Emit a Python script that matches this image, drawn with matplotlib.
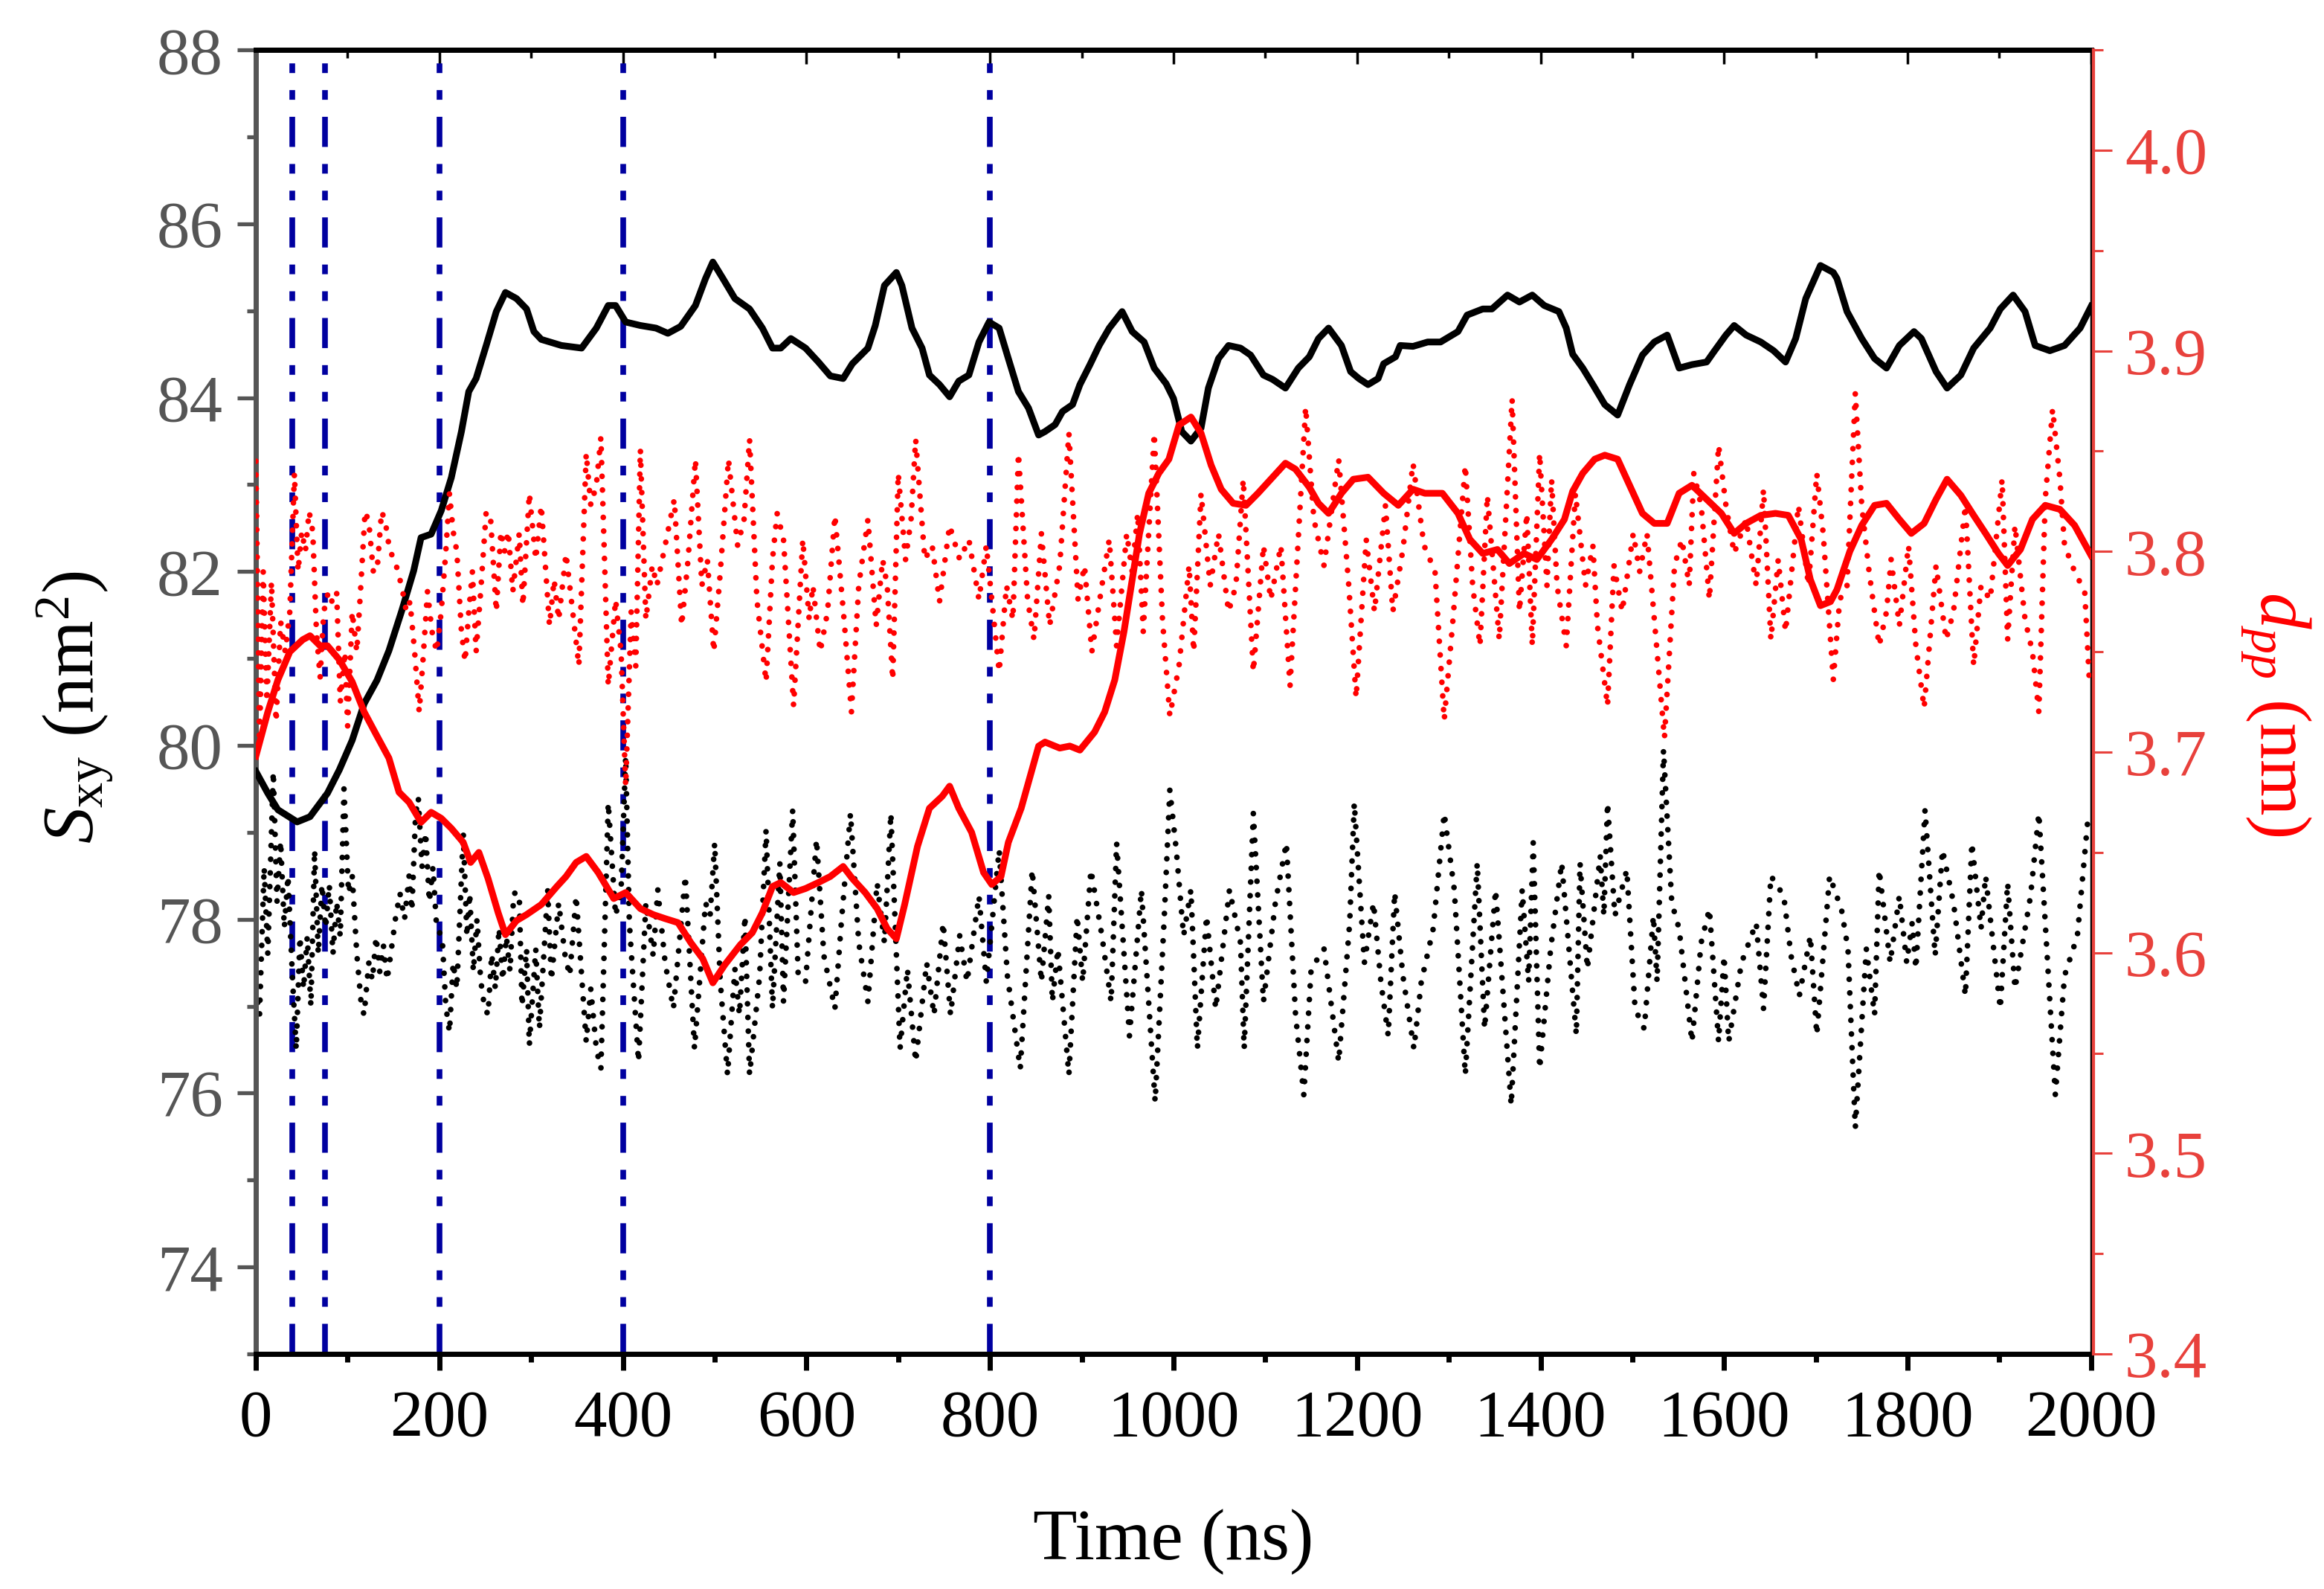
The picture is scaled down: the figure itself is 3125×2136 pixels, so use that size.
import matplotlib
matplotlib.use('Agg')
import matplotlib.pyplot as plt
from matplotlib.ticker import MultipleLocator

plt.rcParams['font.family'] = 'Liberation Serif'
plt.rcParams['mathtext.fontset'] = 'custom'
plt.rcParams['mathtext.rm'] = 'Liberation Serif'
plt.rcParams['mathtext.it'] = 'Liberation Serif:italic'

# --- data: (time ns, value) ---
# S_xy running average (left axis, nm^2)
sxy_avg = [
    (0, 79.7), (13, 79.45), (24, 79.26), (45, 79.12), (59, 79.18), (78, 79.45), (91, 79.72),
    (105, 80.06), (118, 80.48), (132, 80.75), (145, 81.09), (159, 81.55), (172, 82.01),
    (180, 82.39), (191, 82.43), (202, 82.70), (213, 83.08), (224, 83.61), (232, 84.07),
    (240, 84.22), (251, 84.60), (262, 84.99), (272, 85.21), (284, 85.14), (295, 85.02),
    (303, 84.76), (311, 84.67), (333, 84.60), (355, 84.57), (371, 84.80), (384, 85.06),
    (392, 85.06), (403, 84.87), (419, 84.83), (436, 84.80), (449, 84.74), (463, 84.82),
    (479, 85.06), (490, 85.37), (498, 85.56), (509, 85.37), (522, 85.14), (538, 85.02),
    (552, 84.80), (563, 84.57), (572, 84.57), (583, 84.68), (599, 84.57), (613, 84.41),
    (626, 84.25), (640, 84.22), (650, 84.39), (667, 84.57), (675, 84.83), (685, 85.29),
    (698, 85.44), (704, 85.29), (715, 84.80), (726, 84.57), (734, 84.26), (745, 84.15),
    (756, 84.01), (766, 84.19), (777, 84.26), (788, 84.64), (799, 84.87), (810, 84.80),
    (820, 84.45), (831, 84.07), (842, 83.88), (853, 83.57), (860, 83.61), (871, 83.69),
    (879, 83.84), (890, 83.92), (898, 84.15), (909, 84.38), (919, 84.60), (930, 84.80),
    (944, 84.99), (955, 84.76), (968, 84.64), (979, 84.34), (992, 84.16), (1000, 83.99),
    (1009, 83.61), (1019, 83.50), (1030, 83.65), (1038, 84.11), (1049, 84.45), (1060, 84.60),
    (1073, 84.57), (1084, 84.49), (1098, 84.26), (1108, 84.21), (1122, 84.11), (1136, 84.34),
    (1148, 84.47), (1158, 84.68), (1169, 84.80), (1183, 84.60), (1193, 84.30), (1202, 84.22),
    (1212, 84.15), (1223, 84.22), (1229, 84.39), (1242, 84.47), (1247, 84.60), (1261, 84.59),
    (1277, 84.64), (1291, 84.64), (1310, 84.76), (1320, 84.95), (1337, 85.02), (1347, 85.02),
    (1364, 85.18), (1377, 85.10), (1391, 85.18), (1404, 85.06), (1420, 84.99), (1428, 84.80),
    (1435, 84.50), (1446, 84.34), (1457, 84.15), (1470, 83.92), (1484, 83.80), (1497, 84.15),
    (1511, 84.49), (1524, 84.64), (1538, 84.72), (1551, 84.34), (1565, 84.38), (1581, 84.41),
    (1589, 84.53), (1602, 84.72), (1611, 84.83), (1624, 84.72), (1640, 84.64), (1654, 84.54),
    (1667, 84.41), (1678, 84.68), (1689, 85.14), (1705, 85.52), (1719, 85.44), (1723, 85.37),
    (1734, 84.99), (1750, 84.68), (1764, 84.45), (1777, 84.34), (1791, 84.60), (1807, 84.76),
    (1815, 84.68), (1831, 84.30), (1843, 84.11), (1858, 84.26), (1872, 84.57), (1890, 84.80),
    (1901, 85.02), (1915, 85.18), (1928, 84.99), (1939, 84.60), (1955, 84.54), (1971, 84.60),
    (1988, 84.80), (2000, 85.05),
]

# S_xy raw (left axis, dotted)
sxy_raw = [
    (0, 77.2), (4, 76.9), (9, 78.6), (13, 77.6), (19, 79.7), (23, 78.2), (27, 78.9), (31, 77.9),
    (35, 78.5), (40, 77.3), (44, 76.5), (48, 77.8), (52, 77.2), (56, 77.8), (60, 77.0),
    (64, 78.8), (68, 77.6), (72, 78.4), (76, 77.9), (80, 78.4), (84, 77.6), (88, 78.2),
    (92, 77.8), (96, 79.5), (101, 78.3), (105, 78.5), (110, 77.6), (115, 77.0), (118, 76.9),
    (123, 77.5), (127, 77.3), (131, 77.8), (135, 77.4), (139, 77.7), (143, 77.3), (147, 77.6),
    (152, 78.0), (157, 78.3), (162, 78.0), (167, 78.5), (170, 78.1), (174, 79.2), (177, 79.4),
    (181, 78.6), (185, 79.0), (189, 78.2), (193, 78.6), (197, 77.9), (203, 77.8), (207, 77.0),
    (211, 76.7), (215, 77.5), (219, 77.2), (226, 79.0), (230, 77.8), (233, 78.3), (237, 77.4),
    (241, 78.0), (245, 77.3), (249, 77.0), (253, 76.9), (257, 77.6), (261, 77.2), (265, 77.9),
    (269, 77.3), (273, 77.8), (277, 77.4), (281, 78.3), (287, 78.3), (290, 77.0), (295, 77.66),
    (298, 76.55), (305, 77.66), (309, 76.74), (318, 78.34), (322, 77.3), (330, 78.19),
    (337, 77.58), (342, 77.35), (349, 78.27), (360, 76.59), (365, 77.2), (371, 76.51),
    (376, 76.28), (384, 79.34), (392, 78.04), (398, 78.34), (403, 79.87), (407, 77.96),
    (417, 76.36), (425, 78.19), (433, 77.58), (438, 78.34), (446, 77.5), (455, 76.97),
    (468, 78.5), (478, 76.51), (490, 78.19), (495, 78.04), (500, 78.88), (506, 77.3),
    (514, 76.21), (522, 77.43), (527, 76.9), (533, 78.04), (538, 76.21), (549, 77.35),
    (556, 79.03), (563, 76.97), (571, 78.65), (575, 77.05), (585, 79.26), (591, 77.35),
    (599, 77.28), (611, 78.92), (619, 77.58), (631, 76.97), (638, 77.96), (648, 79.22),
    (657, 77.73), (667, 77.05), (677, 78.42), (685, 77.73), (692, 79.22), (702, 76.51),
    (710, 77.43), (719, 76.36), (731, 77.5), (739, 76.9), (749, 77.96), (757, 76.9),
    (767, 77.81), (775, 77.28), (788, 78.27), (796, 77.28), (810, 78.8), (819, 77.35),
    (833, 76.28), (846, 78.57), (856, 77.28), (864, 78.27), (868, 77.05), (874, 77.66),
    (886, 76.21), (895, 78.04), (901, 77.28), (910, 78.57), (922, 77.81), (932, 77.05),
    (938, 78.88), (952, 76.66), (965, 78.34), (980, 75.9), (990, 78.04), (996, 79.49),
    (1003, 78.8), (1011, 77.81), (1019, 78.34), (1026, 76.51), (1036, 78.04), (1046, 76.97),
    (1061, 78.34), (1073, 77.73), (1077, 76.51), (1087, 79.22), (1098, 77.05), (1111, 78.19),
    (1123, 78.88), (1133, 76.9), (1142, 75.98), (1150, 77.43), (1164, 77.66), (1180, 76.36),
    (1192, 77.96), (1197, 79.34), (1208, 77.5), (1218, 78.19), (1226, 77.28), (1234, 76.66),
    (1241, 78.31), (1250, 77.35), (1262, 76.51), (1270, 77.28), (1283, 77.89), (1295, 79.22),
    (1306, 78.34), (1318, 76.21), (1331, 78.65), (1339, 76.74), (1351, 78.34), (1368, 75.86),
    (1380, 78.34), (1387, 77.28), (1392, 78.88), (1399, 76.28), (1411, 77.66), (1423, 78.65),
    (1434, 77.28), (1439, 76.67), (1443, 78.65), (1451, 77.43), (1465, 78.73), (1469, 78.04),
    (1473, 79.34), (1481, 78.04), (1494, 78.57), (1503, 76.97), (1513, 76.74), (1523, 78.04),
    (1527, 77.28), (1534, 79.95), (1543, 78.19), (1551, 77.89), (1565, 76.59), (1575, 77.73),
    (1584, 78.12), (1594, 76.59), (1600, 77.58), (1605, 76.59), (1619, 77.5), (1635, 77.96),
    (1643, 76.97), (1651, 78.5), (1665, 78.27), (1673, 77.58), (1682, 77.12), (1694, 77.81),
    (1701, 76.67), (1715, 78.5), (1728, 78.11), (1735, 77.66), (1743, 75.6), (1755, 77.66),
    (1764, 76.9), (1769, 78.57), (1781, 77.5), (1791, 78.27), (1799, 77.5), (1805, 77.96),
    (1809, 77.43), (1819, 79.26), (1830, 77.58), (1838, 78.8), (1850, 78.19), (1863, 77.12),
    (1870, 78.88), (1880, 77.89), (1885, 78.5), (1901, 76.97), (1909, 78.42), (1917, 77.2),
    (1934, 78.27), (1943, 79.22), (1961, 75.98), (1971, 77.35), (1985, 77.81), (1996, 79.1),
]

# d_pp running average (right axis, nm)
dpp_avg = [
    (0, 3.698), (13, 3.720), (24, 3.736), (37, 3.750), (51, 3.756), (59, 3.758), (70, 3.753),
    (78, 3.753), (91, 3.746), (105, 3.735), (118, 3.720), (132, 3.708), (145, 3.697),
    (156, 3.680), (167, 3.675), (180, 3.665), (191, 3.670), (202, 3.667), (213, 3.662),
    (226, 3.655), (234, 3.645), (243, 3.650), (253, 3.637), (264, 3.620), (272, 3.609),
    (284, 3.616), (295, 3.619), (311, 3.624), (328, 3.633), (338, 3.638), (349, 3.645),
    (360, 3.648), (373, 3.640), (390, 3.627), (403, 3.630), (419, 3.622), (433, 3.619),
    (446, 3.617), (460, 3.615), (474, 3.605), (487, 3.597), (498, 3.585), (511, 3.594),
    (528, 3.604), (541, 3.610), (552, 3.620), (563, 3.633), (572, 3.635), (586, 3.630),
    (599, 3.632), (613, 3.635), (626, 3.638), (640, 3.643), (650, 3.637), (664, 3.630),
    (677, 3.622), (688, 3.612), (698, 3.607), (707, 3.624), (721, 3.653), (734, 3.672),
    (748, 3.678), (756, 3.683), (766, 3.672), (780, 3.660), (793, 3.640), (802, 3.634),
    (812, 3.638), (820, 3.655), (834, 3.672), (845, 3.690), (853, 3.703), (860, 3.705),
    (876, 3.702), (887, 3.703), (898, 3.701), (914, 3.710), (925, 3.720), (936, 3.736),
    (946, 3.760), (955, 3.786), (963, 3.809), (973, 3.829), (984, 3.839), (995, 3.846),
    (1006, 3.863), (1019, 3.867), (1030, 3.859), (1041, 3.843), (1052, 3.831), (1065, 3.824),
    (1079, 3.823), (1092, 3.829), (1106, 3.836), (1122, 3.844), (1133, 3.841), (1148, 3.832),
    (1158, 3.824), (1169, 3.819), (1183, 3.829), (1196, 3.836), (1212, 3.837), (1229, 3.829),
    (1245, 3.823), (1261, 3.831), (1274, 3.829), (1293, 3.829), (1310, 3.819), (1323, 3.806),
    (1337, 3.799), (1353, 3.801), (1366, 3.794), (1382, 3.799), (1396, 3.796), (1412, 3.806),
    (1426, 3.816), (1435, 3.830), (1446, 3.839), (1459, 3.846), (1470, 3.848), (1484, 3.846),
    (1497, 3.833), (1511, 3.819), (1524, 3.814), (1538, 3.814), (1551, 3.829), (1565, 3.833),
    (1581, 3.826), (1597, 3.819), (1611, 3.809), (1624, 3.814), (1640, 3.818), (1656, 3.819),
    (1670, 3.818), (1684, 3.806), (1694, 3.786), (1705, 3.773), (1716, 3.775), (1723, 3.781),
    (1737, 3.800), (1750, 3.813), (1764, 3.823), (1777, 3.824), (1791, 3.816), (1804, 3.809),
    (1818, 3.814), (1831, 3.826), (1843, 3.836), (1858, 3.828), (1872, 3.818), (1885, 3.809),
    (1899, 3.799), (1909, 3.793), (1923, 3.801), (1936, 3.816), (1950, 3.823), (1966, 3.821),
    (1982, 3.813), (2000, 3.798),
]

# d_pp raw (right axis, dotted)
dpp_raw = [
    (0, 3.845), (4, 3.705), (8, 3.79), (12, 3.725), (17, 3.785), (22, 3.715), (27, 3.765),
    (32, 3.75), (37, 3.77), (42, 3.839), (46, 3.79), (50, 3.81), (54, 3.80), (58, 3.82),
    (62, 3.81), (66, 3.76), (70, 3.737), (74, 3.77), (79, 3.78), (83, 3.775), (88, 3.78),
    (92, 3.725), (97, 3.75), (100, 3.713), (105, 3.77), (110, 3.75), (114, 3.78), (119, 3.82),
    (123, 3.815), (128, 3.79), (132, 3.79), (137, 3.82), (141, 3.815), (146, 3.80),
    (150, 3.797), (155, 3.79), (160, 3.78), (164, 3.77), (168, 3.775), (173, 3.75),
    (178, 3.72), (182, 3.745), (187, 3.78), (192, 3.76), (197, 3.75), (202, 3.77), (207, 3.80),
    (211, 3.829), (215, 3.81), (219, 3.80), (224, 3.76), (228, 3.745), (232, 3.77),
    (236, 3.79), (240, 3.75), (245, 3.78), (251, 3.82), (256, 3.815), (262, 3.77), (267, 3.81),
    (271, 3.80), (275, 3.81), (280, 3.78), (287, 3.809), (291, 3.773), (298, 3.829),
    (305, 3.796), (311, 3.823), (320, 3.763), (325, 3.786), (330, 3.766), (338, 3.799),
    (347, 3.763), (352, 3.743), (360, 3.849), (365, 3.823), (371, 3.833), (376, 3.857),
    (384, 3.733), (392, 3.776), (398, 3.75), (403, 3.683), (409, 3.77), (414, 3.743),
    (419, 3.851), (425, 3.766), (432, 3.793), (437, 3.783), (446, 3.803), (456, 3.826),
    (464, 3.763), (471, 3.796), (479, 3.846), (486, 3.783), (492, 3.796), (499, 3.75),
    (506, 3.789), (515, 3.846), (525, 3.803), (532, 3.816), (538, 3.856), (546, 3.776),
    (556, 3.735), (563, 3.796), (568, 3.819), (575, 3.806), (586, 3.723), (596, 3.806),
    (603, 3.766), (607, 3.783), (615, 3.75), (623, 3.77), (631, 3.818), (641, 3.766),
    (649, 3.72), (657, 3.783), (667, 3.816), (676, 3.763), (683, 3.796), (688, 3.783),
    (694, 3.736), (700, 3.839), (708, 3.796), (714, 3.816), (719, 3.856), (729, 3.796),
    (737, 3.803), (745, 3.775), (756, 3.813), (767, 3.796), (777, 3.806), (788, 3.776),
    (796, 3.803), (802, 3.776), (810, 3.74), (818, 3.783), (825, 3.766), (831, 3.849),
    (841, 3.776), (848, 3.756), (856, 3.809), (865, 3.763), (876, 3.793), (886, 3.859),
    (896, 3.776), (903, 3.793), (911, 3.75), (922, 3.783), (930, 3.806), (938, 3.753),
    (949, 3.809), (955, 3.79), (961, 3.819), (967, 3.76), (979, 3.859), (988, 3.766),
    (996, 3.718), (1006, 3.743), (1017, 3.793), (1022, 3.75), (1030, 3.829), (1040, 3.783),
    (1049, 3.809), (1060, 3.77), (1068, 3.783), (1076, 3.836), (1087, 3.74), (1098, 3.803),
    (1106, 3.776), (1117, 3.803), (1127, 3.733), (1144, 3.872), (1153, 3.816), (1164, 3.793),
    (1180, 3.846), (1191, 3.783), (1199, 3.727), (1210, 3.806), (1219, 3.77), (1231, 3.823),
    (1239, 3.77), (1250, 3.801), (1261, 3.844), (1273, 3.803), (1285, 3.79), (1295, 3.716),
    (1304, 3.763), (1318, 3.843), (1326, 3.783), (1334, 3.753), (1342, 3.828), (1355, 3.756),
    (1369, 3.876), (1377, 3.77), (1385, 3.819), (1391, 3.753), (1399, 3.849), (1407, 3.783),
    (1412, 3.836), (1418, 3.783), (1428, 3.753), (1438, 3.829), (1449, 3.783), (1457, 3.803),
    (1462, 3.763), (1473, 3.723), (1480, 3.793), (1489, 3.77), (1501, 3.809), (1508, 3.79),
    (1516, 3.809), (1535, 3.707), (1546, 3.793), (1554, 3.806), (1562, 3.783), (1567, 3.839),
    (1575, 3.823), (1584, 3.776), (1594, 3.853), (1602, 3.823), (1611, 3.799), (1624, 3.816),
    (1635, 3.783), (1643, 3.831), (1651, 3.756), (1659, 3.796), (1667, 3.76), (1681, 3.823),
    (1692, 3.783), (1701, 3.839), (1708, 3.809), (1719, 3.736), (1726, 3.776), (1734, 3.783),
    (1743, 3.879), (1750, 3.823), (1758, 3.79), (1769, 3.753), (1777, 3.77), (1782, 3.796),
    (1791, 3.763), (1801, 3.803), (1809, 3.753), (1818, 3.722), (1831, 3.793), (1842, 3.756),
    (1850, 3.77), (1863, 3.823), (1872, 3.743), (1880, 3.783), (1890, 3.776), (1903, 3.836),
    (1909, 3.756), (1917, 3.813), (1928, 3.766), (1936, 3.75), (1943, 3.72), (1950, 3.826),
    (1958, 3.871), (1966, 3.836), (1971, 3.803), (1982, 3.79), (1993, 3.78), (1998, 3.736),
]

# marked times (blue dash-dot-dot lines)
marked_times = [40, 75, 200, 400, 800]

RED = '#ff0000'
RED_AX = '#e8413c'
GREY = '#555555'
NAVY = '#0000a0'

fig = plt.figure(figsize=(31.25, 21.36), dpi=100)
ax = fig.add_axes([0.1101, 0.1479, 0.7897, 0.8207])
ax2 = ax.twinx()

dots = (0, (0.01, 2.4))
dashdotdot = (0, (5.3, 3.0, 1.7, 3.0, 1.7, 3.0))

for t in marked_times:
    ax.axvline(t, color=NAVY, lw=5.5, ls=dashdotdot, zorder=1)

t, v = zip(*sxy_raw)
ax.plot(t, v, color='black', lw=5.5, ls=dots, dash_capstyle='round', zorder=2)
t, v = zip(*sxy_avg)
ax.plot(t, v, color='black', lw=6.5, zorder=3)

t, v = zip(*dpp_raw)
ax2.plot(t, v, color=RED, lw=5.5, ls=dots, dash_capstyle='round', zorder=2)
t, v = zip(*dpp_avg)
ax2.plot(t, v, color=RED, lw=6.5, zorder=3)

ax.set_xlim(0, 2000)
ax.set_ylim(73, 88)
ax2.set_ylim(3.4, 4.05)

ax.xaxis.set_major_locator(MultipleLocator(200))
ax.xaxis.set_minor_locator(MultipleLocator(100))
ax.yaxis.set_major_locator(MultipleLocator(2))
ax.yaxis.set_minor_locator(MultipleLocator(1))
ax2.yaxis.set_major_locator(MultipleLocator(0.1))
ax2.yaxis.set_minor_locator(MultipleLocator(0.05))
ax2.yaxis.set_major_formatter(plt.FormatStrFormatter('%.1f'))

ax.tick_params(axis='x', which='major', direction='out', length=16, width=5,
               labelsize=64, pad=18, colors='black')
ax.tick_params(axis='x', which='minor', direction='out', length=8, width=5)
ax.tick_params(axis='y', which='major', direction='out', length=18, width=3.8,
               labelsize=64, pad=14, colors=GREY)
ax.tick_params(axis='y', which='minor', direction='out', length=9, width=3.8, colors=GREY)
ax2.tick_params(axis='y', which='major', direction='out', length=18, width=2.2,
                labelsize=64, pad=12, colors=RED_AX)
ax2.tick_params(axis='y', which='minor', direction='out', length=9, width=2.2, colors=RED_AX)

# top axis: inward ticks, no labels
top = ax.secondary_xaxis('top')
top.xaxis.set_major_locator(MultipleLocator(200))
top.xaxis.set_minor_locator(MultipleLocator(100))
top.tick_params(axis='x', which='major', direction='in', length=14, width=2.5, labeltop=False)
top.tick_params(axis='x', which='minor', direction='in', length=8, width=2.5)
top.spines['top'].set_linewidth(5)

ax.spines['left'].set_color(GREY)
ax.spines['left'].set_linewidth(5)
ax.spines['bottom'].set_linewidth(5)
ax.spines['top'].set_linewidth(5)
ax.spines['right'].set_linewidth(2.5)
ax.spines['right'].set_color('black')
for s in ['left', 'top', 'bottom']:
    ax2.spines[s].set_visible(False)
ax2.spines['right'].set_color(RED_AX)
ax2.spines['right'].set_linewidth(3)
ax2.spines['right'].set_position(('outward', 2.5))

fig.text(1578 / 3125, 1 - 2073 / 2136, 'Time (ns)', ha='center', va='center', fontsize=70)
fig.text(100 / 3125, 1 - 950 / 2136, r'$S_{\mathrm{xy}}$ (nm$^2$)', ha='center', va='center',
         rotation=90, fontsize=70)
fig.text(3060 / 3125, 1 - 960 / 2136, r'$d_{pp}$ (nm)', ha='center', va='center',
         rotation=-90, fontsize=70, color=RED)

fig.savefig('out.png', dpi=100)
